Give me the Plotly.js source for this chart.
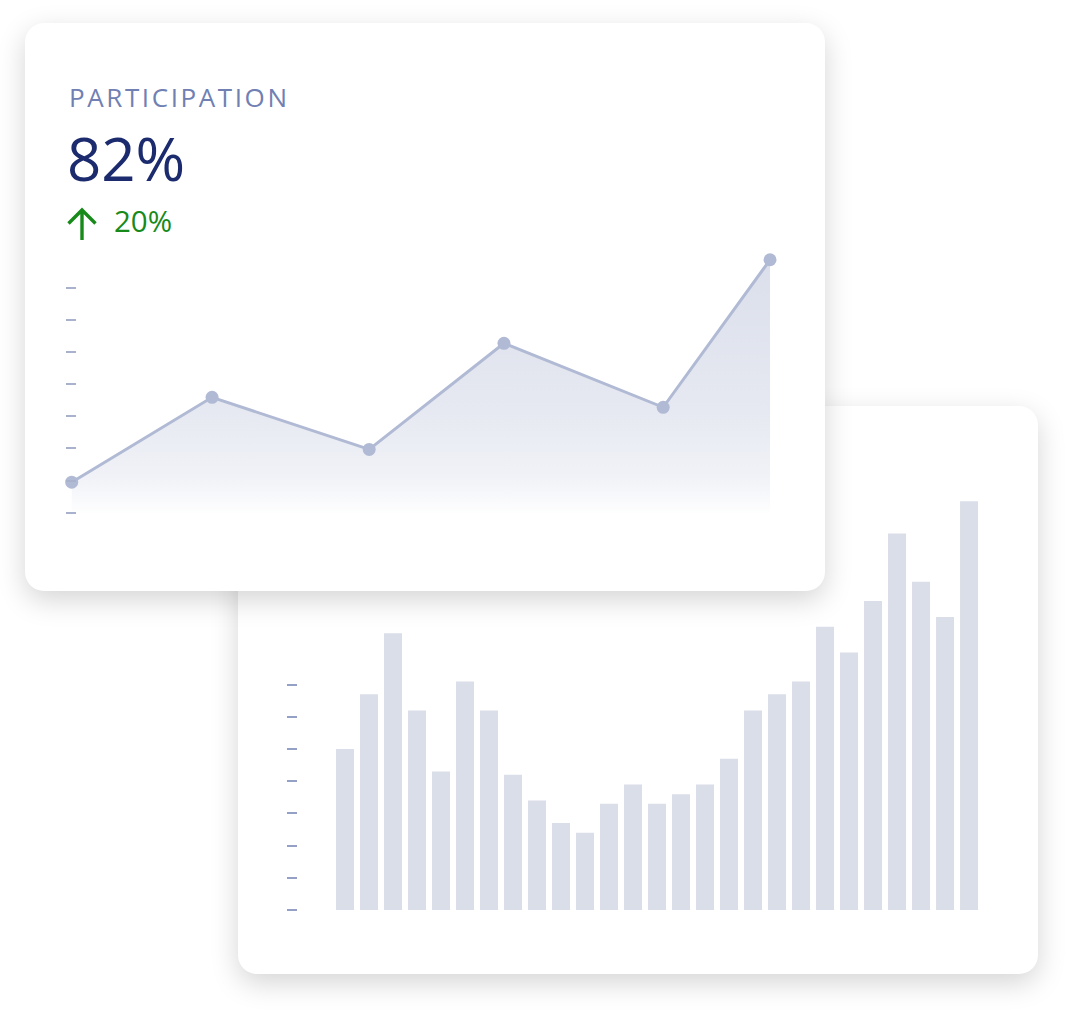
<!DOCTYPE html>
<html>
<head>
<meta charset="utf-8">
<script src="https://cdn.plot.ly/plotly-3.0.1.min.js"></script>
<style>
  body { margin: 0; background: #ffffff; width: 1080px; height: 1016px; position: relative; overflow: hidden; }
  .card {
    position: absolute; width: 800px; height: 568px; background: #ffffff;
    border-radius: 19px; box-shadow: 0 9px 28px rgba(0, 0, 0, 0.17);
  }
  .plot { position: absolute; left: 0; top: 0; width: 800px; height: 568px; }
  .label { position: absolute; font-family: "Open Sans", sans-serif; white-space: nowrap; }
</style>
</head>
<body>
<div class="card" id="backCard" style="left:238px; top:406px;">
  <div class="plot" id="bars"></div>
</div>
<div class="card" id="frontCard" style="left:25px; top:23px;">
  <div class="plot" id="line"></div>
  <div class="label" style="left:44px; top:56px; font-size:26px; letter-spacing:2.6px; color:#7080b3;">PARTICIPATION</div>
  <div class="label" style="left:42px; top:94px; font-size:60px; color:#1b2b6e;">82%</div>
  <svg style="position:absolute; left:40px; top:183px;" width="36" height="36">
    <path d="M17 34 V4 M3.5 17.5 L17 4 L30.5 17.5" fill="none" stroke="#178a1a" stroke-width="3.4"/>
  </svg>
  <div class="label" style="left:89px; top:177px; font-size:29.5px; color:#178a1a;">20%</div>
</div>
<script>
// ---- data ----
const lineX = [0, 20.1, 42.6, 61.9, 84.7, 100];
const lineY = [9.5, 35.9, 19.7, 52.7, 32.8, 78.7];
const lineTicks = [0, 10, 20, 30, 40, 50, 60, 70];

const barDays = [1, 2, 3, 4, 5, 6, 7, 8, 9, 10, 11, 12, 13, 14, 15, 16, 17, 18, 19, 20, 21, 22, 23, 24, 25, 26, 27];
const barValues = [50, 67, 86, 62, 43, 71, 62, 42, 34, 27, 24, 33, 39, 33, 36, 39, 47, 62, 67, 71, 88, 80, 96, 117, 102, 91, 127];
const barTicks = [0, 10, 20, 30, 40, 50, 60, 70];

const cfg = { staticPlot: true, displayModeBar: false };

// ---- front card: line with faded area ----
const lineTrace = {
  type: "scatter",
  mode: "lines+markers",
  x: lineX,
  y: lineY,
  fill: "tozeroy",
  fillgradient: {
    type: "vertical",
    start: -1,
    stop: 80,
    colorscale: [[0, "#ffffff"], [0.15, "#f0f2f7"], [0.4, "#e6e9f1"], [1, "#dbdfeb"]]
  },
  line: { color: "#b1bad4", width: 3 },
  marker: { color: "#b1bad4", size: 13 },
  cliponaxis: false,
  hoverinfo: "skip"
};

// plot area starts left of the first point; the y axis is pinned just right of it
Plotly.newPlot("line", [lineTrace], {
  width: 800, height: 568,
  margin: { l: 35, r: 35, t: 217, b: 61 },
  paper_bgcolor: "rgba(0,0,0,0)",
  plot_bgcolor: "rgba(0,0,0,0)",
  showlegend: false,
  xaxis: { range: [-1.676, 102.86], visible: false },
  yaxis: {
    range: [-5.38, 84.85],
    anchor: "free", position: 0.0219,
    tickvals: lineTicks,
    showticklabels: false,
    ticks: "outside", ticklen: 10, tickwidth: 2, tickcolor: "#a9b2cd",
    showgrid: false, zeroline: false, showline: false
  }
}, cfg);

// ---- back card: bars ----
const barTrace = {
  type: "bar",
  x: barDays,
  y: barValues,
  marker: { color: "#dadee8" },
  hoverinfo: "skip"
};

Plotly.newPlot("bars", [barTrace], {
  width: 800, height: 568,
  margin: { l: 60, r: 38, t: 74, b: 44 },
  paper_bgcolor: "rgba(0,0,0,0)",
  plot_bgcolor: "rgba(0,0,0,0)",
  showlegend: false,
  bargap: 0.25,
  xaxis: { range: [-0.958, 28.29], visible: false },
  yaxis: {
    range: [-6.21, 133.6],
    tickvals: barTicks,
    showticklabels: false,
    ticks: "outside", ticklen: 10, tickwidth: 2, tickcolor: "#95a0c6",
    showgrid: false, zeroline: false, showline: false
  }
}, cfg);
</script>
</body>
</html>
